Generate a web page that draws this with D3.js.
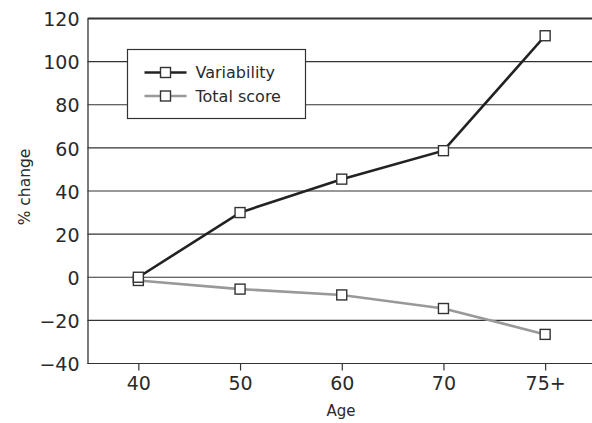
<!DOCTYPE html>
<html>
<head>
<meta charset="utf-8">
<script src="https://cdn.jsdelivr.net/npm/d3@7"></script>
<style>
  body { margin: 0; background: #fff; }
  svg { display: block; font-family: "DejaVu Sans", sans-serif; }
</style>
</head>
<body>
<div id="chart"></div>
<script>
// data
const ages = ["40", "50", "60", "70", "75+"];
const variability = [0, 30, 45.5, 58.7, 112];
const totalScore = [-1.5, -5.5, -8.2, -14.5, -26.5];
const yTicks = [-40, -20, 0, 20, 40, 60, 80, 100, 120];

const series = [
    { name: "Variability", values: variability, color: "#222" },
    { name: "Total score", values: totalScore, color: "#999" }
];

const width = 592, height = 423;
const plotL = 87.5, plotR = 596, plotT = 18.5, plotB = 363.5;

const svg = d3.select("#chart").append("svg")
    .attr("width", width)
    .attr("height", height);

const x = d3.scalePoint()
    .domain(ages)
    .range([plotL, plotR])
    .padding(0.5);

const y = d3.scaleLinear()
    .domain([-40, 120])
    .range([plotB, plotT]);

// horizontal grid
svg.append("g")
    .selectAll("line")
    .data(yTicks)
    .join("line")
        .attr("x1", plotL)
        .attr("x2", width)
        .attr("y1", d => y(d))
        .attr("y2", d => y(d))
        .attr("stroke", "#333")
        .attr("stroke-width", d => d == 120 ? 2 : 1.1)
        ;

// left axis
const yAxis = svg.append("g")
    .attr("transform", `translate(${plotL},0)`)
    .call(d3.axisLeft(y).tickValues(yTicks).tickSize(0).tickPadding(8)
        .tickFormat(d => d < 0 ? "\u2212" + Math.abs(d) : d));
yAxis.select(".domain").attr("stroke", "#333").attr("stroke-width", 1.3);
yAxis.selectAll("text")
    .attr("font-family", "DejaVu Sans")
    .attr("font-size", 19)
    .attr("fill", "#2a2a2a")
    .attr("dy", "0.38em");

// bottom axis
const xAxis = svg.append("g")
    .attr("transform", `translate(0,${plotB})`)
    .call(d3.axisBottom(x).tickSize(7).tickPadding(6));
xAxis.select(".domain").remove();
xAxis.selectAll("line").attr("stroke", "#333").attr("stroke-width", 1.2);
xAxis.selectAll("text")
    .attr("font-family", "DejaVu Sans")
    .attr("font-size", 19)
    .attr("fill", "#2a2a2a");

// axis titles
svg.append("text")
    .attr("x", 341)
    .attr("y", 416)
    .attr("text-anchor", "middle")
    .attr("font-size", 15)
    .attr("fill", "#2a2a2a")
    .text("Age");

svg.append("text")
    .attr("transform", "translate(30,187) rotate(-90)")
    .attr("text-anchor", "middle")
    .attr("font-size", 15.5)
    .attr("fill", "#2a2a2a")
    .text("% change");

// lines and markers
const line = d3.line()
    .x((d, i) => x(ages[i]))
    .y(d => y(d));

const sg = svg.append("g")
    .selectAll("g")
    .data(series.slice().reverse())
    .join("g");

sg.append("path")
    .attr("d", d => line(d.values))
    .attr("fill", "none")
    .attr("stroke", d => d.color)
    .attr("stroke-width", 2.6);

sg.selectAll("rect")
    .data(d => d.values.map((v, i) => ({ age: ages[i], v })))
    .join("rect")
        .attr("x", d => x(d.age) - 5)
        .attr("y", d => y(d.v) - 5)
        .attr("width", 10)
        .attr("height", 10)
        .attr("fill", "#fff")
        .attr("stroke", "#333")
        .attr("stroke-width", 1.4);

// legend
const legend = svg.append("g")
    .attr("transform", "translate(127.5,49.5)");

legend.append("rect")
    .attr("width", 178)
    .attr("height", 69)
    .attr("fill", "#fff")
    .attr("stroke", "#333")
    .attr("stroke-width", 1.2);

const item = legend.selectAll("g")
    .data(series)
    .join("g")
        .attr("transform", (d, i) => `translate(0,${23 + i * 23.5})`);

item.append("line")
    .attr("x1", 17)
    .attr("x2", 59)
    .attr("stroke", d => d.color)
    .attr("stroke-width", 2.6);

item.append("rect")
    .attr("x", 33)
    .attr("y", -5)
    .attr("width", 10)
    .attr("height", 10)
    .attr("fill", "#fff")
    .attr("stroke", "#333")
    .attr("stroke-width", 1.4);

item.append("text")
    .attr("x", 68)
    .attr("dy", "0.35em")
    .attr("font-size", 16)
    .attr("fill", "#2a2a2a")
    .text(d => d.name);
</script>
</body>
</html>
